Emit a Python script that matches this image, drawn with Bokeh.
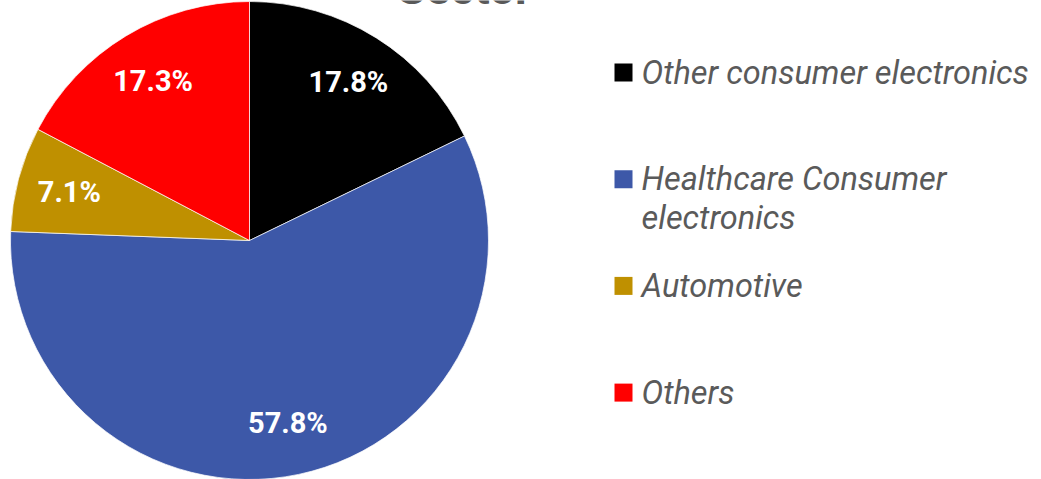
import math
from bokeh.plotting import figure
from bokeh.models import Range1d, ColumnDataSource
from bokeh.core.properties import value
from bokeh.embed import file_html
from bokeh.resources import INLINE

# ---- data ----
categories = ["Other consumer electronics", "Healthcare Consumer\nelectronics", "Automotive", "Others"]
shares = [17.8, 57.8, 7.1, 17.3]
colors = ["#000000", "#3d58a8", "#bf9000", "#ff0000"]
title_text = "Sector"

W, H = 1041, 479
p = figure(width=W, height=H, x_range=Range1d(0, W), y_range=Range1d(0, H),
           output_backend="svg", toolbar_location=None, min_border=0,
           outline_line_color=None, background_fill_color="white")
p.axis.visible = False
p.grid.visible = False

cx, cy, R = 249, H - 240, 239
total = sum(shares)
starts, ends, lx, ly, labels = [], [], [], [], []
cum = 0.0
for s in shares:
    a0 = cum / total
    a1 = (cum + s) / total
    cum += s
    starts.append(math.pi / 2 - 2 * math.pi * a1)
    ends.append(math.pi / 2 - 2 * math.pi * a0)
    mid = 2 * math.pi * (a0 + a1) / 2
    rr = 0.78 * R
    lx.append(cx + rr * math.sin(mid))
    ly.append(cy + rr * math.cos(mid))
    labels.append(f"{s:.1f}%")

src = ColumnDataSource(dict(start=starts, end=ends, color=colors))
p.wedge(x=cx, y=cy, radius=R, start_angle="start", end_angle="end",
        fill_color="color", line_color="white", line_width=0.7, source=src)

p.text(x=lx, y=ly, text=labels, text_color="white", text_font=value("Roboto"),
       text_font_style="bold", text_font_size="29px", text_align="center",
       text_baseline="middle")

# legend
sq_x, sq_y0, step = 623, 72, 106.7
tx, ty, tt = [], [], []
sqx, sqy = [], []
for i, lab in enumerate(categories):
    yc = sq_y0 + i * step
    sqx.append(sq_x)
    sqy.append(H - yc)
    for j, line in enumerate(lab.split("\n")):
        tx.append(641)
        ty.append(H - (yc + j * 38.7))
        tt.append(line)
p.scatter(x=sqx, y=sqy, marker="square", size=18, fill_color=colors, line_color=None)
p.text(x=tx, y=ty, text=tt, text_color="#5a5a5a", text_font=value("Roboto"),
       text_font_style="italic", text_font_size="32.5px", text_align="left",
       text_baseline="middle")

# title (mostly cut off at top)
p.text(x=[464], y=[H + 13], text=[title_text], text_color="#595959",
       text_font=value("Roboto"), text_font_style="bold", text_font_size="46px",
       text_align="center", text_baseline="alphabetic")

open("out.html", "w").write(file_html(p, INLINE))
